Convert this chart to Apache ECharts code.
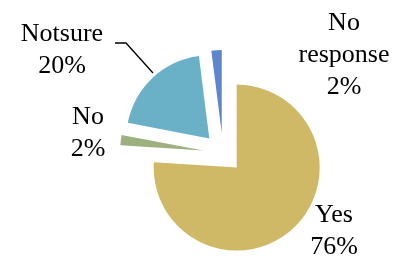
<!DOCTYPE html>
<html>
<head>
<meta charset="utf-8">
<script src="https://cdn.jsdelivr.net/npm/echarts@6/dist/echarts.min.js"></script>
<style>
  html, body { margin: 0; padding: 0; background: #fff; }
  #main { width: 400px; height: 256px; }
</style>
</head>
<body>
<div id="main"></div>
<script>
var categories = ['Yes', 'No', 'Notsure', 'No response'];
var values = [76, 2, 20, 2];
var colors = ['#CFB967', '#9CB17F', '#6AB1C8', '#6085CF'];

window.onload = function () {
    var myChart = echarts.init(document.getElementById('main'));

    var total = values.reduce(function (a, b) { return a + b; }, 0);

    // centre of each label block
    var labelPos = [[334, 231], [88, 133], [62, 50], [344, 55]];

    var data = categories.map(function (name, i) {
        return {
            name: name,
            value: values[i],
            selected: true,
            itemStyle: { color: colors[i] }
        };
    });

    var labels = categories.map(function (name, i) {
        return {
            type: 'text',
            x: labelPos[i][0],
            y: labelPos[i][1],
            style: {
                text: name.replace(' ', '\n') + '\n' + Math.round(values[i] / total * 100) + '%',
                fontFamily: 'Liberation Serif',
                fontSize: 26,
                lineHeight: 32,
                fill: '#000',
                align: 'center',
                verticalAlign: 'middle'
            }
        };
    });
    // leader line of "Notsure"
    labels.push({
        type: 'polyline',
        shape: { points: [[115, 43], [126, 43], [153, 73]] },
        style: { stroke: '#000', lineWidth: 1.3, fill: null }
    });

    var option = {
        animation: false,
        series: [{
            type: 'pie',
            center: [223, 153],
            radius: 83,
            startAngle: 90,
            clockwise: true,
            selectedMode: 'multiple',
            selectedOffset: 20,
            emphasis: { disabled: true },
            itemStyle: { borderWidth: 0 },
            label: { show: false },
            labelLine: { show: false },
            data: data
        }],
        graphic: labels
    };
    myChart.setOption(option);
    window.addEventListener('resize', function () {
        myChart.resize();
    });
};
</script>
</body>
</html>
